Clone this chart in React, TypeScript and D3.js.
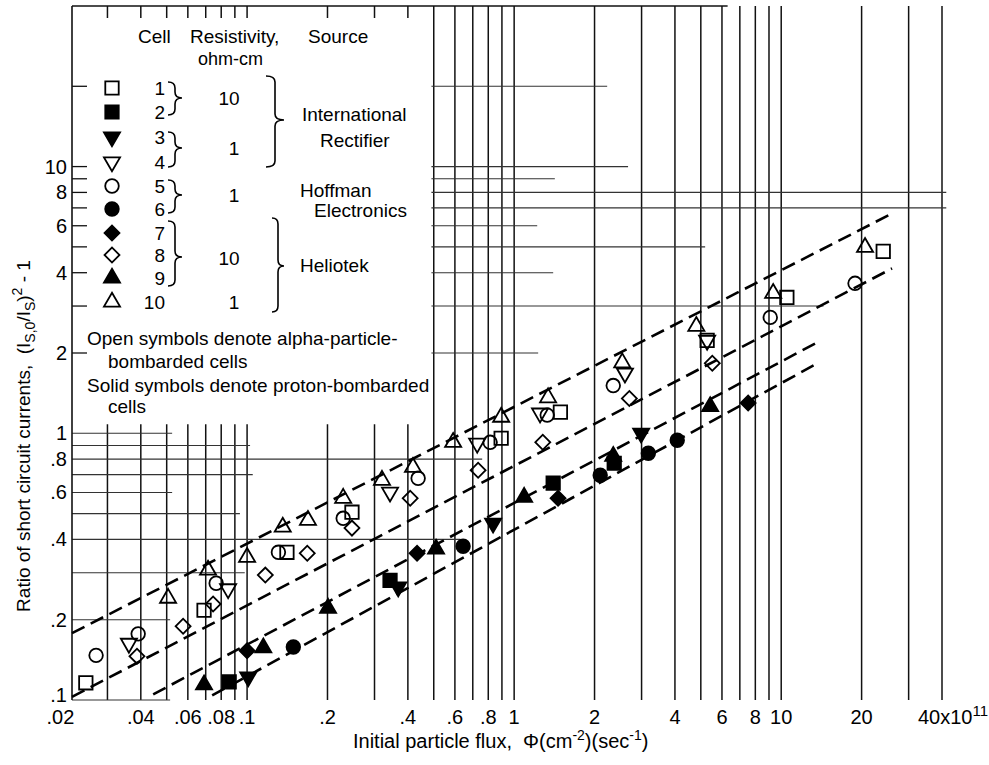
import React from 'react';
import * as d3 from 'd3';

// flux in units of 1e11 (cm^-2)(sec^-1), ratio (Is0/Is)^2 - 1
const cell1 = [[0.0249, 0.116], [0.069, 0.217], [0.141, 0.358], [0.247, 0.506], [0.894, 0.958], [1.49, 1.2], [5.28, 2.23], [10.5, 3.23], [24.1, 4.81]];
const cell2 = [[0.0857, 0.117], [0.343, 0.281], [1.4, 0.65], [2.37, 0.772]];
const cell3 = [[0.101, 0.122], [0.368, 0.265], [0.834, 0.46], [2.99, 1.0]];
const cell4 = [[0.0361, 0.163], [0.0849, 0.261], [0.343, 0.601], [0.727, 0.917], [1.25, 1.19], [2.6, 1.68], [5.28, 2.23]];
const cell5 = [[0.0272, 0.147], [0.0391, 0.177], [0.0766, 0.274], [0.131, 0.358], [0.229, 0.48], [0.437, 0.678], [0.813, 0.925], [1.33, 1.17], [2.35, 1.51], [9.1, 2.72], [18.9, 3.65]];
const cell6 = [[0.149, 0.158], [0.644, 0.377], [2.1, 0.696], [3.18, 0.842], [4.08, 0.942]];
const cell7 = [[0.1, 0.153], [0.433, 0.355], [1.46, 0.571], [7.52, 1.3]];
const cell8 = [[0.0387, 0.146], [0.0576, 0.189], [0.0746, 0.229], [0.117, 0.294], [0.168, 0.355], [0.247, 0.441], [0.408, 0.571], [0.733, 0.727], [1.28, 0.925], [2.7, 1.35], [5.52, 1.83]];
const cell9 = [[0.069, 0.114], [0.115, 0.157], [0.201, 0.221], [0.51, 0.368], [1.09, 0.576], [2.35, 0.82], [5.42, 1.26]];
const cell10 = [[0.0506, 0.241], [0.0714, 0.307], [0.1, 0.343], [0.136, 0.445], [0.169, 0.472], [0.229, 0.571], [0.32, 0.667], [0.418, 0.746], [0.591, 0.925], [0.894, 1.15], [1.34, 1.36], [2.54, 1.84], [4.81, 2.52], [9.33, 3.35], [20.6, 4.98]];

const fitLines = [
  [[0.0221, 0.178], [26.0, 6.67]],
  [[0.0221, 0.1027], [26.0, 4.15]],
  [[0.0445, 0.105], [13.4, 2.17]],
  [[0.074, 0.104], [13.8, 1.84]],
];

const xTicks = [0.02, 0.04, 0.06, 0.08, 0.1, 0.2, 0.4, 0.6, 0.8, 1, 2, 4, 6, 8, 10, 20];
const xTickLabels = ['.02', '.04', '.06', '.08', '.1', '.2', '.4', '.6', '.8', '1', '2', '4', '6', '8', '10', '20'];
const yTicks = [10, 8, 6, 4, 2, 1, 0.8, 0.6, 0.4, 0.2, 0.1];
const yTickLabels = ['10', '8', '6', '4', '2', '1', '.8', '.6', '.4', '.2', '.1'];

// graph paper rulings
const fullGridX = [0.5, 0.6, 0.7, 0.8, 0.9, 1, 2, 3, 4, 5, 6, 7, 8, 9, 10, 20, 30, 40];
const lowerGridX = [0.03, 0.04, 0.05, 0.06, 0.07, 0.08, 0.09, 0.1, 0.2, 0.3, 0.4];
const leftTicksY = [20, 10, 9, 8, 7, 6, 5, 4, 3, 2];
const upperGridY = [[20, 2.23], [10, 2.67], [9, 1.42], [8, 41.5], [7, 41.5], [6, 1.22], [5, 5.19], [4, 1.4], [3, 14.4], [2, 1.23]];
const lowerGridY = [[1, 0.0524], [0.9, 0.1026], [0.8, 0.759], [0.7, 0.105], [0.6, 0.0524], [0.5, 0.094], [0.4, 0.628], [0.3, 0.098], [0.2, 0.0515], [0.1, 0.0515]];

const cellIds = ['1', '2', '3', '4', '5', '6', '7', '8', '9', '10'];
const cellShapes = ['square', 'square', 'itri', 'itri', 'circle', 'circle', 'diamond', 'diamond', 'tri', 'tri'];
const cellFilled = [false, true, true, false, false, true, true, false, true, false];
const cellData = [cell1, cell2, cell3, cell4, cell5, cell6, cell7, cell8, cell9, cell10];

const font = "'Liberation Sans', Arial, sans-serif";

function Marker({ shape, filled, x, y }: any) {
  let d: any;
  let rot = 0;
  if (shape === 'square') d = d3.symbol(d3.symbolSquare, 180)();
  else if (shape === 'circle') d = d3.symbol(d3.symbolCircle, 145)();
  else if (shape === 'tri') d = d3.symbol(d3.symbolTriangle, 112)();
  else if (shape === 'itri') {
    d = d3.symbol(d3.symbolTriangle, 112)();
    rot = 180;
  } else {
    d = d3.symbol(d3.symbolSquare, 112)();
    rot = 45;
  }
  return (
    <path
      d={d}
      transform={`translate(${x},${y}) rotate(${rot})`}
      fill={filled ? '#000' : 'none'}
      stroke="#000"
      strokeWidth={1.8}
    />
  );
}

function brace(x0: number, x1: number, yTop: number, yMid: number, yBot: number) {
  const xm = (x0 + x1) / 2;
  const r = 6;
  return `M${x0},${yTop} Q${xm},${yTop} ${xm},${yTop + r} L${xm},${yMid - r} Q${xm},${yMid} ${x1},${yMid} Q${xm},${yMid} ${xm},${yMid + r} L${xm},${yBot - r} Q${xm},${yBot} ${x0},${yBot}`;
}

export default function App() {
  const x = d3.scaleLog().domain([0.0221, 40]).range([72, 942]);
  const y = d3.scaleLog().domain([0.1, 40]).range([700, 6]);
  const line = d3.line<any>().x((d) => x(d[0])).y((d) => y(d[1]));

  const rowY = [88, 112, 137, 162, 186, 209, 233, 255, 278, 302];
  const lowTop = y(1.08);

  return (
    <svg width={989} height={765} style={{ position: 'absolute', left: 0, top: 0, background: '#fff' }} fontFamily={font}>
      {/* vertical rulings */}
      {fullGridX.map((v) => (
        <line key={'fx' + v} x1={x(v)} x2={x(v)} y1={6} y2={700} stroke="#111" strokeWidth={1.5} />
      ))}
      {lowerGridX.map((v) => (
        <g key={'lx' + v}>
          <line x1={x(v)} x2={x(v)} y1={lowTop} y2={700} stroke="#111" strokeWidth={1.5} />
          <line x1={x(v)} x2={x(v)} y1={6} y2={18} stroke="#111" strokeWidth={1.5} />
        </g>
      ))}
      {/* horizontal rulings */}
      {upperGridY.map(([v, e]) => (
        <line key={'uy' + v} x1={x(0.49)} x2={x(e)} y1={y(v)} y2={y(v)} stroke="#333" strokeWidth={1.1} />
      ))}
      {lowerGridY.map(([v, e]) => (
        <line key={'ly' + v} x1={72} x2={x(e)} y1={y(v)} y2={y(v)} stroke="#333" strokeWidth={1.1} />
      ))}
      {leftTicksY.map((v) => (
        <line key={'lt' + v} x1={72} x2={87} y1={y(v)} y2={y(v)} stroke="#111" strokeWidth={1.3} />
      ))}
      {/* frame */}
      <line x1={72} x2={72} y1={6} y2={700} stroke="#111" strokeWidth={1.6} />
      <line x1={72} x2={x(6.3)} y1={6} y2={6} stroke="#111" strokeWidth={1.4} />

      {/* fitted dashed lines */}
      {fitLines.map((l, i) => (
        <path key={'fit' + i} d={line(l) as string} fill="none" stroke="#000" strokeWidth={2.6} strokeDasharray="14,7" />
      ))}

      {/* data */}
      {cellData.map((data, ci) =>
        data.map((p, pi) => (
          <Marker key={ci + '-' + pi} shape={cellShapes[ci]} filled={cellFilled[ci]} x={x(p[0])} y={y(p[1])} />
        ))
      )}

      {/* axis tick labels */}
      <g fontSize={20} fill="#000">
        {xTicks.map((v, i) => (
          <text key={'xt' + v} x={x(v)} y={724} textAnchor="middle">{xTickLabels[i]}</text>
        ))}
        <text x={x(40) - 24} y={724}>
          40x10<tspan dy={-8} fontSize={15}>11</tspan>
        </text>
        {yTicks.map((v, i) => (
          <text key={'yt' + v} x={67} y={v === 0.1 ? y(v) + 2 : y(v) + 7} textAnchor="end">{yTickLabels[i]}</text>
        ))}
      </g>

      {/* axis titles */}
      <text x={353} y={748} fontSize={20}>
        Initial particle flux,{'\u00a0\u00a0'}Φ(cm<tspan dy={-8} fontSize={14}>-2</tspan>
        <tspan dy={8}>)(sec</tspan>
        <tspan dy={-8} fontSize={14}>-1</tspan>
        <tspan dy={8}>)</tspan>
      </text>
      <text transform="translate(30,436) rotate(-90)" textAnchor="middle" fontSize={19}>
        Ratio of short circuit currents,{'\u00a0\u00a0'}(I<tspan dy={5} fontSize={14}>S,0</tspan>
        <tspan dy={-5}>/I</tspan>
        <tspan dy={5} fontSize={14}>S</tspan>
        <tspan dy={-5}>)</tspan>
        <tspan dy={-8} fontSize={14}>2</tspan>
        <tspan dy={8}> - 1</tspan>
      </text>

      {/* legend */}
      <g fontSize={19} fill="#000">
        <text x={138} y={43}>Cell</text>
        <text x={190} y={43}>Resistivity,</text>
        <text x={198} y={65} fontSize={18}>ohm-cm</text>
        <text x={308} y={43}>Source</text>
        {cellIds.map((c, i) => (
          <g key={'lg' + c}>
            <Marker shape={cellShapes[i]} filled={cellFilled[i]} x={112} y={rowY[i]} />
            <text x={165} y={rowY[i] + 7} textAnchor="end">{c}</text>
          </g>
        ))}
        <text x={229} y={105} textAnchor="middle">10</text>
        <text x={234} y={155} textAnchor="middle">1</text>
        <text x={234} y={202} textAnchor="middle">1</text>
        <text x={229} y={265} textAnchor="middle">10</text>
        <text x={234} y={309} textAnchor="middle">1</text>
        <text x={302} y={121}>International</text>
        <text x={320} y={147}>Rectifier</text>
        <text x={300} y={197}>Hoffman</text>
        <text x={314} y={217}>Electronics</text>
        <text x={300} y={272}>Heliotek</text>
        <text x={87} y={345}>Open symbols denote alpha-particle-</text>
        <text x={108} y={368}>bombarded cells</text>
        <text x={87} y={392}>Solid symbols denote proton-bombarded</text>
        <text x={108} y={413}>cells</text>
      </g>
      <g fill="none" stroke="#000" strokeWidth={1.6}>
        <path d={brace(168, 182, 82, 98, 115)} />
        <path d={brace(168, 182, 132, 148, 167)} />
        <path d={brace(168, 182, 180, 195, 213)} />
        <path d={brace(168, 182, 221, 257, 286)} />
        <path d={brace(266, 284, 76, 120, 167)} />
        <path d={brace(272, 284, 218, 266, 312)} />
      </g>
    </svg>
  );
}
